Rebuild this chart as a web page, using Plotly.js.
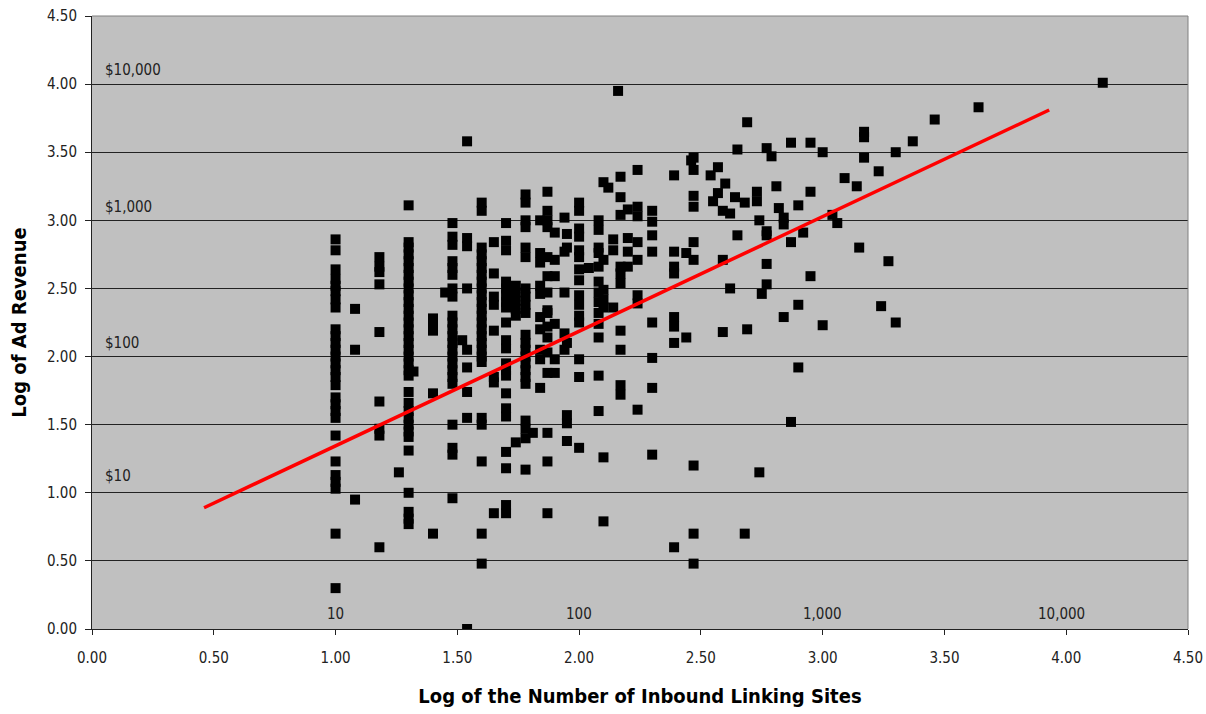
<!DOCTYPE html>
<html>
<head>
<meta charset="utf-8">
<script src="https://cdn.plot.ly/plotly-3.0.1.min.js"></script>
<style>html,body{margin:0;padding:0;background:#fff;}#chart{width:1206px;height:714px;}</style>
</head>
<body>
<div id="chart"></div>
<script>
// Log10 of inbound linking sites (column positions)
const siteColumns = [1.00, 1.08, 1.18, 1.26, 1.30, 1.32, 1.40, 1.45, 1.48, 1.52, 1.54, 1.60, 1.65, 1.70, 1.74, 1.78, 1.81, 1.84, 1.87, 1.90, 1.94, 1.95, 2.00, 2.04, 2.08, 2.10, 2.12, 2.14, 2.16, 2.17, 2.20, 2.24, 2.30, 2.39, 2.44, 2.46, 2.47, 2.54, 2.55, 2.57, 2.59, 2.60, 2.62, 2.64, 2.65, 2.68, 2.69, 2.73, 2.74, 2.75, 2.77, 2.79, 2.81, 2.82, 2.84, 2.87, 2.90, 2.92, 2.95, 3.00, 3.04, 3.06, 3.09, 3.14, 3.15, 3.17, 3.23, 3.24, 3.27, 3.30, 3.37, 3.46, 3.64, 4.15];
// Log10 of ad revenue for the sites in each column
const revenueByColumn = [
  [2.86, 2.78, 2.64, 2.57, 2.52, 2.48, 2.42, 2.36, 2.20, 2.15, 2.10, 2.05, 2.00, 1.95, 1.90, 1.85, 1.79, 1.70, 1.65, 1.60, 1.55, 1.42, 1.23, 1.13, 1.08, 1.03, 0.70, 0.30],
  [2.35, 2.05, 0.95],
  [2.73, 2.66, 2.62, 2.53, 2.18, 1.67, 1.47, 1.42, 0.60],
  [1.15],
  [3.11, 2.84, 2.80, 2.75, 2.70, 2.65, 2.60, 2.55, 2.50, 2.45, 2.40, 2.35, 2.30, 2.25, 2.20, 2.15, 2.10, 2.05, 2.00, 1.95, 1.90, 1.86, 1.74, 1.66, 1.60, 1.55, 1.50, 1.45, 1.41, 1.31, 1.00, 0.86, 0.81, 0.77],
  [1.89],
  [2.28, 2.23, 2.19, 1.73, 0.70],
  [2.47],
  [2.98, 2.88, 2.82, 2.70, 2.65, 2.60, 2.50, 2.44, 2.30, 2.25, 2.20, 2.15, 2.10, 2.05, 2.00, 1.95, 1.90, 1.85, 1.80, 1.50, 1.33, 1.28, 0.96],
  [2.12],
  [3.58, 2.87, 2.81, 2.50, 2.05, 1.92, 1.74, 1.55, 0.00],
  [3.13, 3.07, 2.80, 2.75, 2.70, 2.65, 2.60, 2.55, 2.50, 2.45, 2.40, 2.35, 2.30, 2.25, 2.20, 2.15, 2.10, 2.05, 2.00, 1.96, 1.55, 1.50, 1.23, 0.70, 0.48],
  [2.84, 2.61, 2.44, 2.38, 2.19, 1.85, 1.81, 0.85],
  [2.98, 2.85, 2.78, 2.55, 2.50, 2.45, 2.40, 2.36, 2.25, 2.12, 2.06, 1.95, 1.90, 1.86, 1.73, 1.62, 1.56, 1.30, 1.18, 0.91, 0.85],
  [2.52, 2.47, 2.41, 2.35, 2.30, 1.37],
  [3.19, 3.13, 3.00, 2.95, 2.80, 2.73, 2.50, 2.44, 2.38, 2.32, 2.16, 2.10, 2.05, 2.00, 1.95, 1.90, 1.85, 1.80, 1.53, 1.47, 1.40, 1.17],
  [1.44],
  [3.00, 2.76, 2.69, 2.52, 2.46, 2.29, 2.20, 2.05, 1.98, 1.77],
  [3.21, 3.07, 3.00, 2.95, 2.73, 2.59, 2.47, 2.34, 2.32, 2.22, 2.14, 2.03, 1.88, 1.44, 1.23, 0.85],
  [2.91, 2.71, 2.59, 2.24, 1.98, 1.88],
  [3.02, 2.77, 2.47, 2.17, 2.05],
  [2.90, 2.80, 2.10, 1.57, 1.51, 1.38],
  [3.13, 3.07, 2.94, 2.88, 2.78, 2.73, 2.64, 2.56, 2.45, 2.38, 2.30, 2.25, 1.98, 1.85, 1.33],
  [2.65],
  [3.00, 2.93, 2.80, 2.76, 2.66, 2.55, 2.47, 2.40, 2.32, 2.24, 2.14, 1.86, 1.60],
  [3.28, 2.71, 2.49, 2.42, 2.36, 1.26, 0.79],
  [3.24],
  [2.86, 2.78, 2.36],
  [3.95],
  [3.32, 3.17, 3.04, 2.66, 2.61, 2.54, 2.19, 2.05, 1.79, 1.72],
  [3.08, 2.87, 2.77, 2.66],
  [3.37, 3.10, 3.03, 2.84, 2.71, 2.45, 2.39, 1.61],
  [3.07, 2.99, 2.89, 2.77, 2.25, 1.99, 1.77, 1.28],
  [3.33, 2.77, 2.66, 2.61, 2.29, 2.22, 2.10, 0.60],
  [2.76, 2.14],
  [3.44],
  [3.46, 3.37, 3.18, 3.10, 2.84, 2.71, 1.20, 0.70, 0.48],
  [3.33],
  [3.14],
  [3.39, 3.20],
  [3.07, 2.71, 2.18],
  [3.27],
  [3.05, 2.50],
  [3.17],
  [3.52, 2.89],
  [3.13, 0.70],
  [3.72, 2.20],
  [3.21, 3.14],
  [3.00, 1.15],
  [2.46],
  [3.53, 2.92, 2.89, 2.68, 2.53],
  [3.47],
  [3.25],
  [3.09],
  [3.02, 2.97, 2.29],
  [3.57, 2.84, 1.52],
  [3.11, 2.38, 1.92],
  [2.91],
  [3.57, 3.21, 2.59],
  [3.50, 2.23],
  [3.04],
  [2.98],
  [3.31],
  [3.25],
  [2.80],
  [3.65, 3.61, 3.46],
  [3.36],
  [2.37],
  [2.70],
  [3.50, 2.25],
  [3.58],
  [3.74],
  [3.83],
  [4.01]
];
// Linear trend line end points
const trendX = [0.46, 3.93];
const trendY = [0.89, 3.81];
// Dollar / count reference labels
const revenueLabels = ['$10', '$100', '$1,000', '$10,000'];
const revenueLabelY = [1.12, 2.1, 3.1, 4.1];
const countLabels = ['10', '100', '1,000', '10,000'];
const countLabelX = [1.0, 2.0, 3.0, 3.98];

const xs = [], ys = [];
siteColumns.forEach((x, i) => revenueByColumn[i].forEach(y => { xs.push(x); ys.push(y); }));

const FONT = '"Liberation Sans Narrow", "DejaVu Sans Condensed", "Roboto Condensed", sans-serif';

const annotations = [];
revenueLabels.forEach((t, i) => annotations.push({
  x: 0.045, y: revenueLabelY[i], xref: 'x', yref: 'y', text: t, showarrow: false,
  xanchor: 'left', yanchor: 'middle', font: {family: FONT, size: 15, color: '#222'}
}));
countLabels.forEach((t, i) => annotations.push({
  x: countLabelX[i], y: 0.11, xref: 'x', yref: 'y', text: t, showarrow: false,
  xanchor: 'center', yanchor: 'middle', font: {family: FONT, size: 15, color: '#222'}
}));

const data = [
  {x: xs, y: ys, type: 'scatter', mode: 'markers',
   marker: {symbol: 'square', size: 10, color: '#000', line: {width: 0}}, hoverinfo: 'x+y'},
  {x: trendX, y: trendY, type: 'scatter', mode: 'lines',
   line: {color: '#FF0000', width: 3.5}}
];

const layout = {
  width: 1206, height: 714,
  margin: {l: 92, r: 18, t: 16, b: 85},
  paper_bgcolor: '#fff', plot_bgcolor: '#C0C0C0',
  showlegend: false,
  font: {family: FONT, size: 15, color: '#222'},
  xaxis: {
    range: [0, 4.5], tick0: 0, dtick: 0.5, tickformat: '.2f',
    showgrid: false, zeroline: false, showline: true, linecolor: '#222', linewidth: 1,
    ticks: 'outside', ticklen: 5, tickcolor: '#222', ticklabelstandoff: 10,
    tickfont: {family: FONT, size: 15, color: '#222'},
    title: {text: '<b>Log of the Number of Inbound Linking Sites</b>', standoff: 22,
            font: {family: FONT, size: 20, color: '#000'}}
  },
  yaxis: {
    range: [0, 4.5], tick0: 0, dtick: 0.5, tickformat: '.2f',
    showgrid: true, gridcolor: '#222', gridwidth: 1, zeroline: false,
    showline: true, linecolor: '#222', linewidth: 1,
    ticks: 'outside', ticklen: 6, tickcolor: '#222', ticklabelstandoff: 5,
    tickfont: {family: FONT, size: 15, color: '#222'},
    title: {text: '<b>Log of Ad Revenue</b>', standoff: 14,
            font: {family: FONT, size: 20, color: '#000'}}
  },
  shapes: [
    {type: 'line', xref: 'paper', yref: 'paper', x0: 0, x1: 1, y0: 1, y1: 1, line: {color: '#808080', width: 1}},
    {type: 'line', xref: 'paper', yref: 'paper', x0: 1, x1: 1, y0: 0, y1: 1, line: {color: '#808080', width: 1}}
  ],
  annotations: annotations
};

Plotly.newPlot('chart', data, layout, {displayModeBar: false, responsive: false});
</script>
</body>
</html>
